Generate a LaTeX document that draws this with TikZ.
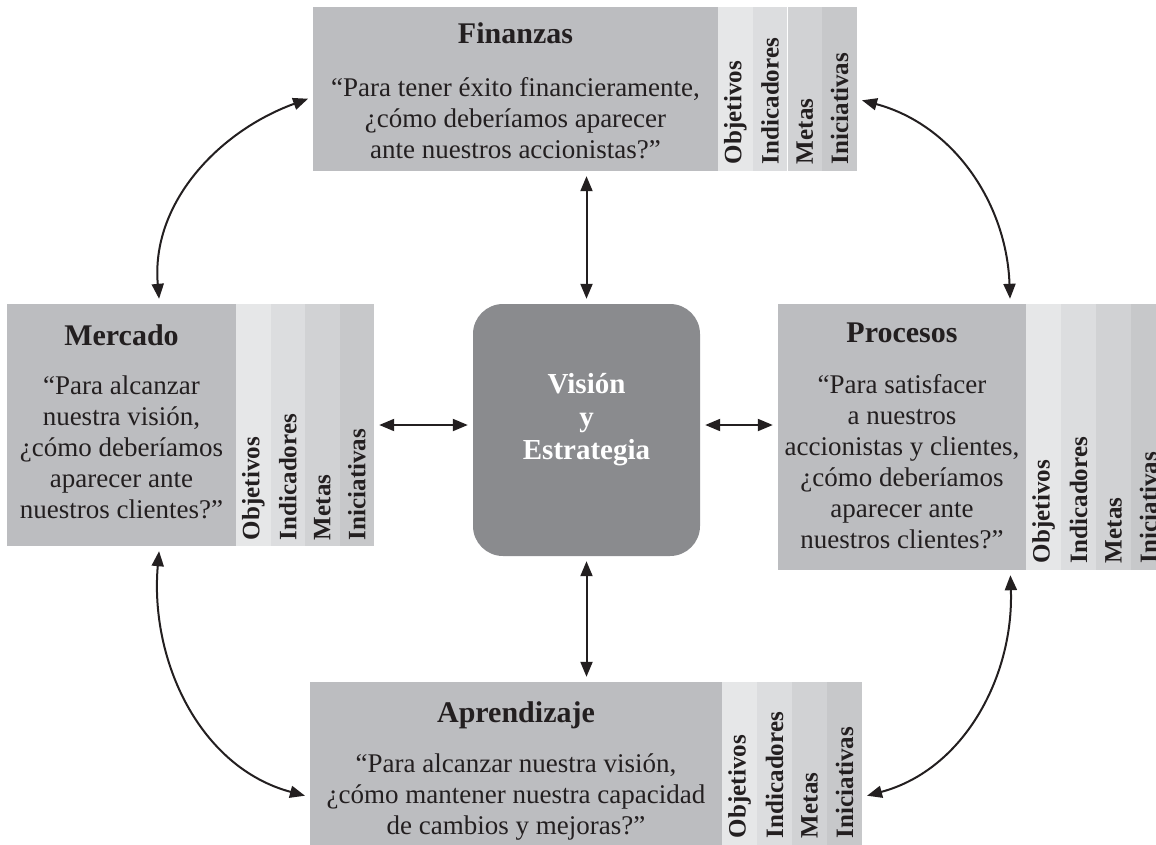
\documentclass[tikz,border=0pt]{standalone}
\usepackage{fontspec}
\setmainfont{Liberation Serif}
\usetikzlibrary{arrows.meta}

\definecolor{gris}{HTML}{BCBDC0}
\definecolor{oscuro}{HTML}{8A8B8E}
\definecolor{tinta}{HTML}{231F20}
\definecolor{obj}{HTML}{E6E7E8}
\definecolor{ind}{HTML}{DCDDDF}
\definecolor{met}{HTML}{D1D2D4}
\definecolor{ini}{HTML}{C7C8CA}

\tikzset{
    caja/.style={fill=gris, inner sep=0pt},
    titulo/.style={font=\bfseries\fontsize{30}{34}\selectfont, text=tinta},
    pregunta/.style={font=\fontsize{27}{31}\selectfont, align=center, text=tinta},
    tira/.style={rotate=90, inner sep=0pt, align=left, text=tinta,
        font=\bfseries\fontsize{25}{28}\selectfont},
    flecha/.style={{Triangle[length=15pt,width=12pt]}-{Triangle[length=15pt,width=12pt]},
        line width=2pt, draw=tinta, shorten <=5pt, shorten >=5pt},
}

\begin{document}
\begin{tikzpicture}[x=1pt, y=1pt]
        \useasboundingbox (0,0) rectangle (1156,-844);
        % Finanzas
        \node[caja, minimum width=405pt, minimum height=164pt] (fin) at (515.5,-89) {};
        \node[tira, fill=obj, minimum height=34.75pt, minimum width=164pt, text width=150pt] (fin-obj) at (735.4,-89) {Objetivos};
        \node[tira, fill=ind, minimum height=34.75pt, minimum width=164pt, text width=150pt] (fin-ind) at (770.1,-89) {Indicadores};
        \node[tira, fill=met, minimum height=34.75pt, minimum width=164pt, text width=150pt] (fin-met) at (804.9,-89) {Metas};
        \node[tira, fill=ini, minimum height=34.75pt, minimum width=164pt, text width=150pt] (fin-ini) at (839.6,-89) {Iniciativas};
        \node[titulo] (fin-t) at (515.5,-33) {Finanzas};
        \node[pregunta] (fin-q) at (515.5,-118) {“Para tener éxito financieramente,\\ ¿cómo deberíamos aparecer\\ ante nuestros accionistas?”};
        % Mercado
        \node[caja, minimum width=229pt, minimum height=242pt] (merc) at (121.5,-425) {};
        \node[tira, fill=obj, minimum height=34.5pt, minimum width=242pt, text width=230pt] (merc-obj) at (253.25,-425) {Objetivos};
        \node[tira, fill=ind, minimum height=34.5pt, minimum width=242pt, text width=230pt] (merc-ind) at (287.75,-425) {Indicadores};
        \node[tira, fill=met, minimum height=34.5pt, minimum width=242pt, text width=230pt] (merc-met) at (322.25,-425) {Metas};
        \node[tira, fill=ini, minimum height=34.5pt, minimum width=242pt, text width=230pt] (merc-ini) at (356.75,-425) {Iniciativas};
        \node[titulo] (merc-t) at (121.5,-335) {Mercado};
        \node[pregunta] (merc-q) at (121.5,-447) {“Para alcanzar\\ nuestra visión,\\ ¿cómo deberíamos\\ aparecer ante\\ nuestros clientes?”};
        % Procesos
        \node[caja, minimum width=248pt, minimum height=266pt] (proc) at (902,-437) {};
        \node[tira, fill=obj, minimum height=35pt, minimum width=266pt, text width=252pt] (proc-obj) at (1043.5,-437) {Objetivos};
        \node[tira, fill=ind, minimum height=35pt, minimum width=266pt, text width=252pt] (proc-ind) at (1078.5,-437) {Indicadores};
        \node[tira, fill=met, minimum height=35pt, minimum width=266pt, text width=252pt] (proc-met) at (1113.5,-437) {Metas};
        \node[tira, fill=ini, minimum height=35pt, minimum width=266pt, text width=252pt] (proc-ini) at (1148.5,-437) {Iniciativas};
        \node[titulo] (proc-t) at (902,-333) {Procesos};
        \node[pregunta] (proc-q) at (902,-461.5) {“Para satisfacer\\ a nuestros\\ accionistas y clientes,\\ ¿cómo deberíamos\\ aparecer ante\\ nuestros clientes?”};
        % Aprendizaje
        \node[caja, minimum width=412pt, minimum height=164pt] (apr) at (516,-764) {};
        \node[tira, fill=obj, minimum height=35pt, minimum width=164pt, text width=148pt] (apr-obj) at (739.5,-764) {Objetivos};
        \node[tira, fill=ind, minimum height=35pt, minimum width=164pt, text width=148pt] (apr-ind) at (774.5,-764) {Indicadores};
        \node[tira, fill=met, minimum height=35pt, minimum width=164pt, text width=148pt] (apr-met) at (809.5,-764) {Metas};
        \node[tira, fill=ini, minimum height=35pt, minimum width=164pt, text width=148pt] (apr-ini) at (844.5,-764) {Iniciativas};
        \node[titulo] (apr-t) at (516,-715) {Aprendizaje};
        \node[pregunta] (apr-q) at (516,-797) {“Para alcanzar nuestra visión,\\ ¿cómo mantener nuestra capacidad\\ de cambios y mejoras?”};
        % centro
        \node[fill=oscuro, rounded corners=30pt, minimum width=227pt, minimum height=252pt] (vis) at (586.5,-430) {};
        \node[titulo, text=white, align=center, font=\bfseries\fontsize{29}{33}\selectfont] (vis-t) at (586.5,-420) {Visión\\ y\\ Estrategia};
        % flechas
        \draw[flecha] (vis.north |- fin.south) -- (vis.north);
        \draw[flecha] (vis.south) -- (vis.south |- apr.north);
        \draw[flecha] (merc-ini.south) -- (vis.west |- merc-ini.south);
        \draw[flecha] (vis.east |- merc-ini.south) -- (proc.west |- merc-ini.south);
        \draw[flecha] ([xshift=38pt]merc.north) to[out=95, in=200] ([yshift=-8pt]fin.west);
        \draw[flecha] ([yshift=-10pt]fin-ini.south) to[out=-15, in=92] ([xshift=-16pt]proc.north east);
        \draw[flecha] ([xshift=38pt]merc.south) to[out=-95, in=165] ([yshift=-33pt]apr.west);
        \draw[flecha] ([xshift=-16pt]proc.south east) to[out=-88, in=15] ([yshift=-33pt]apr-ini.south);
    \end{tikzpicture}
\end{document}
